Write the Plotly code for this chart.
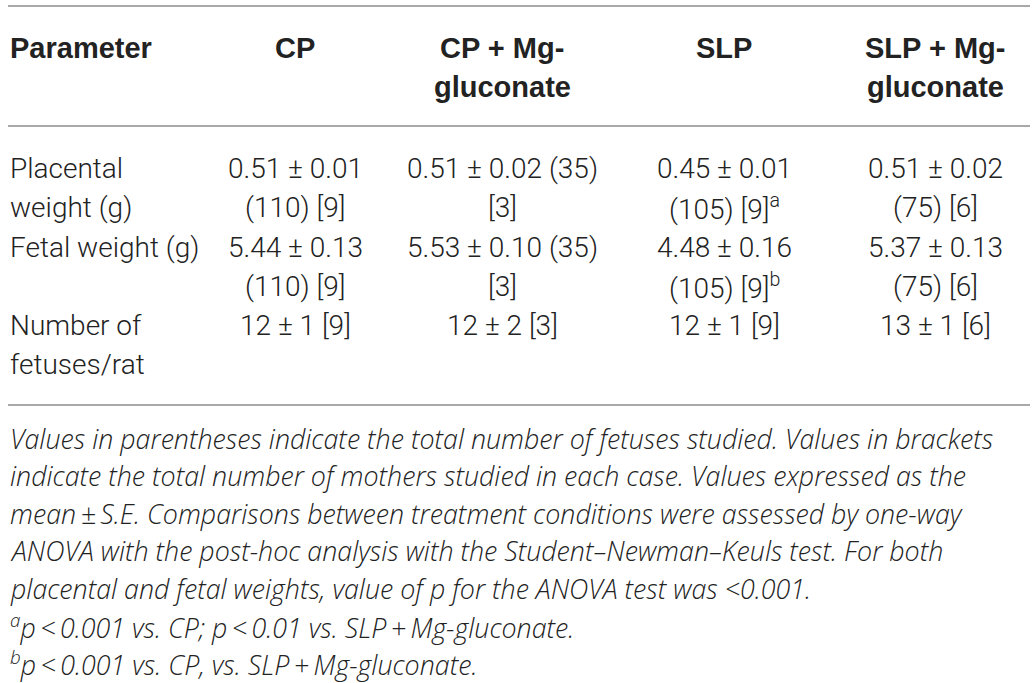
import plotly.graph_objects as go

# table content
headers = ["Parameter", "CP", "CP + Mg-<br>gluconate", "SLP", "SLP + Mg-<br>gluconate"]
parameters = ["Placental<br>weight (g)", "Fetal weight (g)", "Number of<br>fetuses/rat"]
cp = ["0.51 ± 0.01<br>(110) [9]", "5.44 ± 0.13<br>(110) [9]", "12 ± 1 [9]"]
cp_mg = ["0.51 ± 0.02 (35)<br>[3]", "5.53 ± 0.10 (35)<br>[3]", "12 ± 2 [3]"]
slp = ["0.45 ± 0.01<br>(105) [9]<sup>a</sup>", "4.48 ± 0.16<br>(105) [9]<sup>b</sup>", "12 ± 1 [9]"]
slp_mg = ["0.51 ± 0.02<br>(75) [6]", "5.37 ± 0.13<br>(75) [6]", "13 ± 1 [6]"]

footnotes = [
    "Values in parentheses indicate the total number of fetuses studied. Values in brackets",
    "indicate the total number of mothers studied in each case. Values expressed as the",
    "mean\u2009±\u2009S.E. Comparisons between treatment conditions were assessed by one-way",
    "ANOVA with the post-hoc analysis with the Student\u2013Newman\u2013Keuls test. For both",
    "placental and fetal weights, value of p for the ANOVA test was <0.001.",
    "<sup>a</sup>p\u2009<\u20090.001 vs. CP; p\u2009<\u20090.01 vs. SLP\u2009+\u2009Mg-gluconate.",
    "<sup>b</sup>p\u2009<\u20090.001 vs. CP, vs. SLP\u2009+\u2009Mg-gluconate.",
]

W, H = 1036, 683
col_x = [8, 295, 502, 724, 935]
header_y = 48
row_y = [168, 247, 325]
line_gap = 39
rules_y = [6, 126, 405]
foot_y0, foot_gap = 438, 37.6

text_col = "#222222"
body_font = dict(family="Roboto", size=28, color=text_col, weight=300)
head_font = dict(family="Liberation Sans", size=29, color=text_col, weight="bold")
foot_font = dict(family="Open Sans", size=26.8, color=text_col, weight=300)

annotations = []


def add_cell(text, x, y, font, anchor):
    for i, part in enumerate(text.split("<br>")):
        annotations.append(dict(
            x=x, y=y + i * line_gap, text=part, showarrow=False,
            xanchor=anchor, yanchor="middle", font=font,
            xref="x", yref="y",
        ))


for j, h in enumerate(headers):
    add_cell(h, col_x[j], header_y, head_font, "left" if j == 0 else "center")

columns = [parameters, cp, cp_mg, slp, slp_mg]
for j, col in enumerate(columns):
    for i, cell in enumerate(col):
        add_cell(cell, col_x[j], row_y[i], body_font, "left" if j == 0 else "center")

for i, line in enumerate(footnotes):
    annotations.append(dict(
        x=8, y=foot_y0 + i * foot_gap, text="<i>" + line + "</i>", showarrow=False,
        xanchor="left", yanchor="middle", font=foot_font, xref="x", yref="y",
    ))

shapes = [
    dict(type="line", x0=8, x1=1030, y0=y, y1=y, xref="x", yref="y",
         line=dict(color="#8c8c8c", width=1.5))
    for y in rules_y
]

fig = go.Figure()
fig.update_layout(
    width=W, height=H,
    margin=dict(l=0, r=0, t=0, b=0),
    paper_bgcolor="white", plot_bgcolor="white",
    xaxis=dict(range=[0, W], visible=False, fixedrange=True),
    yaxis=dict(range=[H, 0], visible=False, fixedrange=True),
    annotations=annotations,
    shapes=shapes,
    showlegend=False,
)
# drop the page's default body margin so the figure sits at the top-left corner
fig.write_html("out.html", config={"displayModeBar": False},
               post_script="document.body.style.margin='0';")
